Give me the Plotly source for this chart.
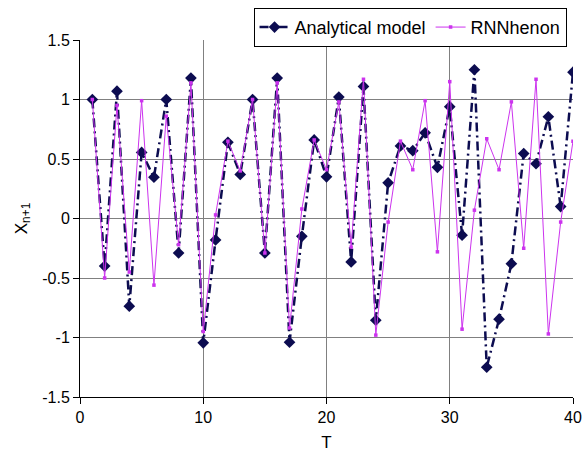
import plotly.graph_objects as go

# Time steps
T = list(range(1, 41))

# Henon map: analytical model values
analytical = [1.0, -0.40, 1.07, -0.737, 0.555, 0.347, 1.0, -0.29, 1.18, -1.045,
              -0.18, 0.64, 0.37, 1.0, -0.29, 1.18, -1.04, -0.15, 0.66, 0.35,
              1.02, -0.365, 1.11, -0.855, 0.30, 0.61, 0.57, 0.72, 0.43, 0.94,
              -0.14, 1.25, -1.25, -0.846, -0.38, 0.546, 0.46, 0.855, 0.10, 1.23]

# RNN prediction of the Henon series
rnn = [1.0, -0.50, 0.95, -0.45, 0.99, -0.56, 0.86, -0.22, 1.14, -0.95,
       0.03, 0.65, 0.40, 1.0, -0.29, 1.14, -0.92, 0.08, 0.66, 0.41,
       0.98, -0.24, 1.17, -0.98, -0.03, 0.65, 0.41, 0.99, -0.28, 1.15,
       -0.93, 0.07, 0.67, 0.41, 0.98, -0.25, 1.17, -0.97, -0.03, 0.65]

y_ticks = [-1.5, -1, -0.5, 0, 0.5, 1, 1.5]
y_labels = ["-1.5", "-1", "-0.5", "0", "0.5", "1", "1.5"]
x_ticks = [0, 10, 20, 30, 40]
x_labels = ["0", "10", "20", "30", "40"]

FONT = "Liberation Sans, Arial, sans-serif"

fig = go.Figure()

fig.add_trace(go.Scatter(
    x=T, y=analytical, name="Analytical model", mode="lines+markers",
    line=dict(color="#0c0c50", width=2.5, dash="9px,4px,2px,4px"),
    marker=dict(symbol="diamond", size=9, color="#0c0c50"),
))

fig.add_trace(go.Scatter(
    x=T, y=rnn, name="RNNhenon", mode="lines+markers",
    line=dict(color="#cc33ee", width=1),
    marker=dict(symbol="square", size=3.5, color="#cc33ee"),
))

fig.update_layout(
    width=586, height=452,
    margin=dict(l=80, r=13, t=40, b=55, autoexpand=False),
    paper_bgcolor="white", plot_bgcolor="white",
    font=dict(family=FONT, size=16, color="black"),
    legend=dict(
        orientation="h", x=0.352, y=1.09, xanchor="left", yanchor="top",
        bgcolor="white", bordercolor="black", borderwidth=1,
        font=dict(size=18), itemwidth=30, tracegroupgap=0,
    ),
    showlegend=True,
)

fig.update_xaxes(
    range=[0, 40], tickvals=x_ticks, ticktext=x_labels,
    showgrid=True, gridcolor="#808080", gridwidth=1,
    showline=True, linecolor="black", linewidth=1,
    ticks="outside", ticklen=6, tickcolor="black",
    zeroline=False, automargin=False,
    title=dict(text="T", standoff=18, font=dict(size=17)),
)

fig.update_yaxes(
    range=[-1.5, 1.5], tickvals=y_ticks, ticktext=y_labels,
    showgrid=True, gridcolor="#808080", gridwidth=1,
    showline=True, linecolor="black", linewidth=1,
    ticks="outside", ticklen=6, tickcolor="black",
    zeroline=False, automargin=False,
    title=dict(text="X<sub>n+1</sub>", standoff=10, font=dict(size=17)),
)

fig.write_html("out.html")
